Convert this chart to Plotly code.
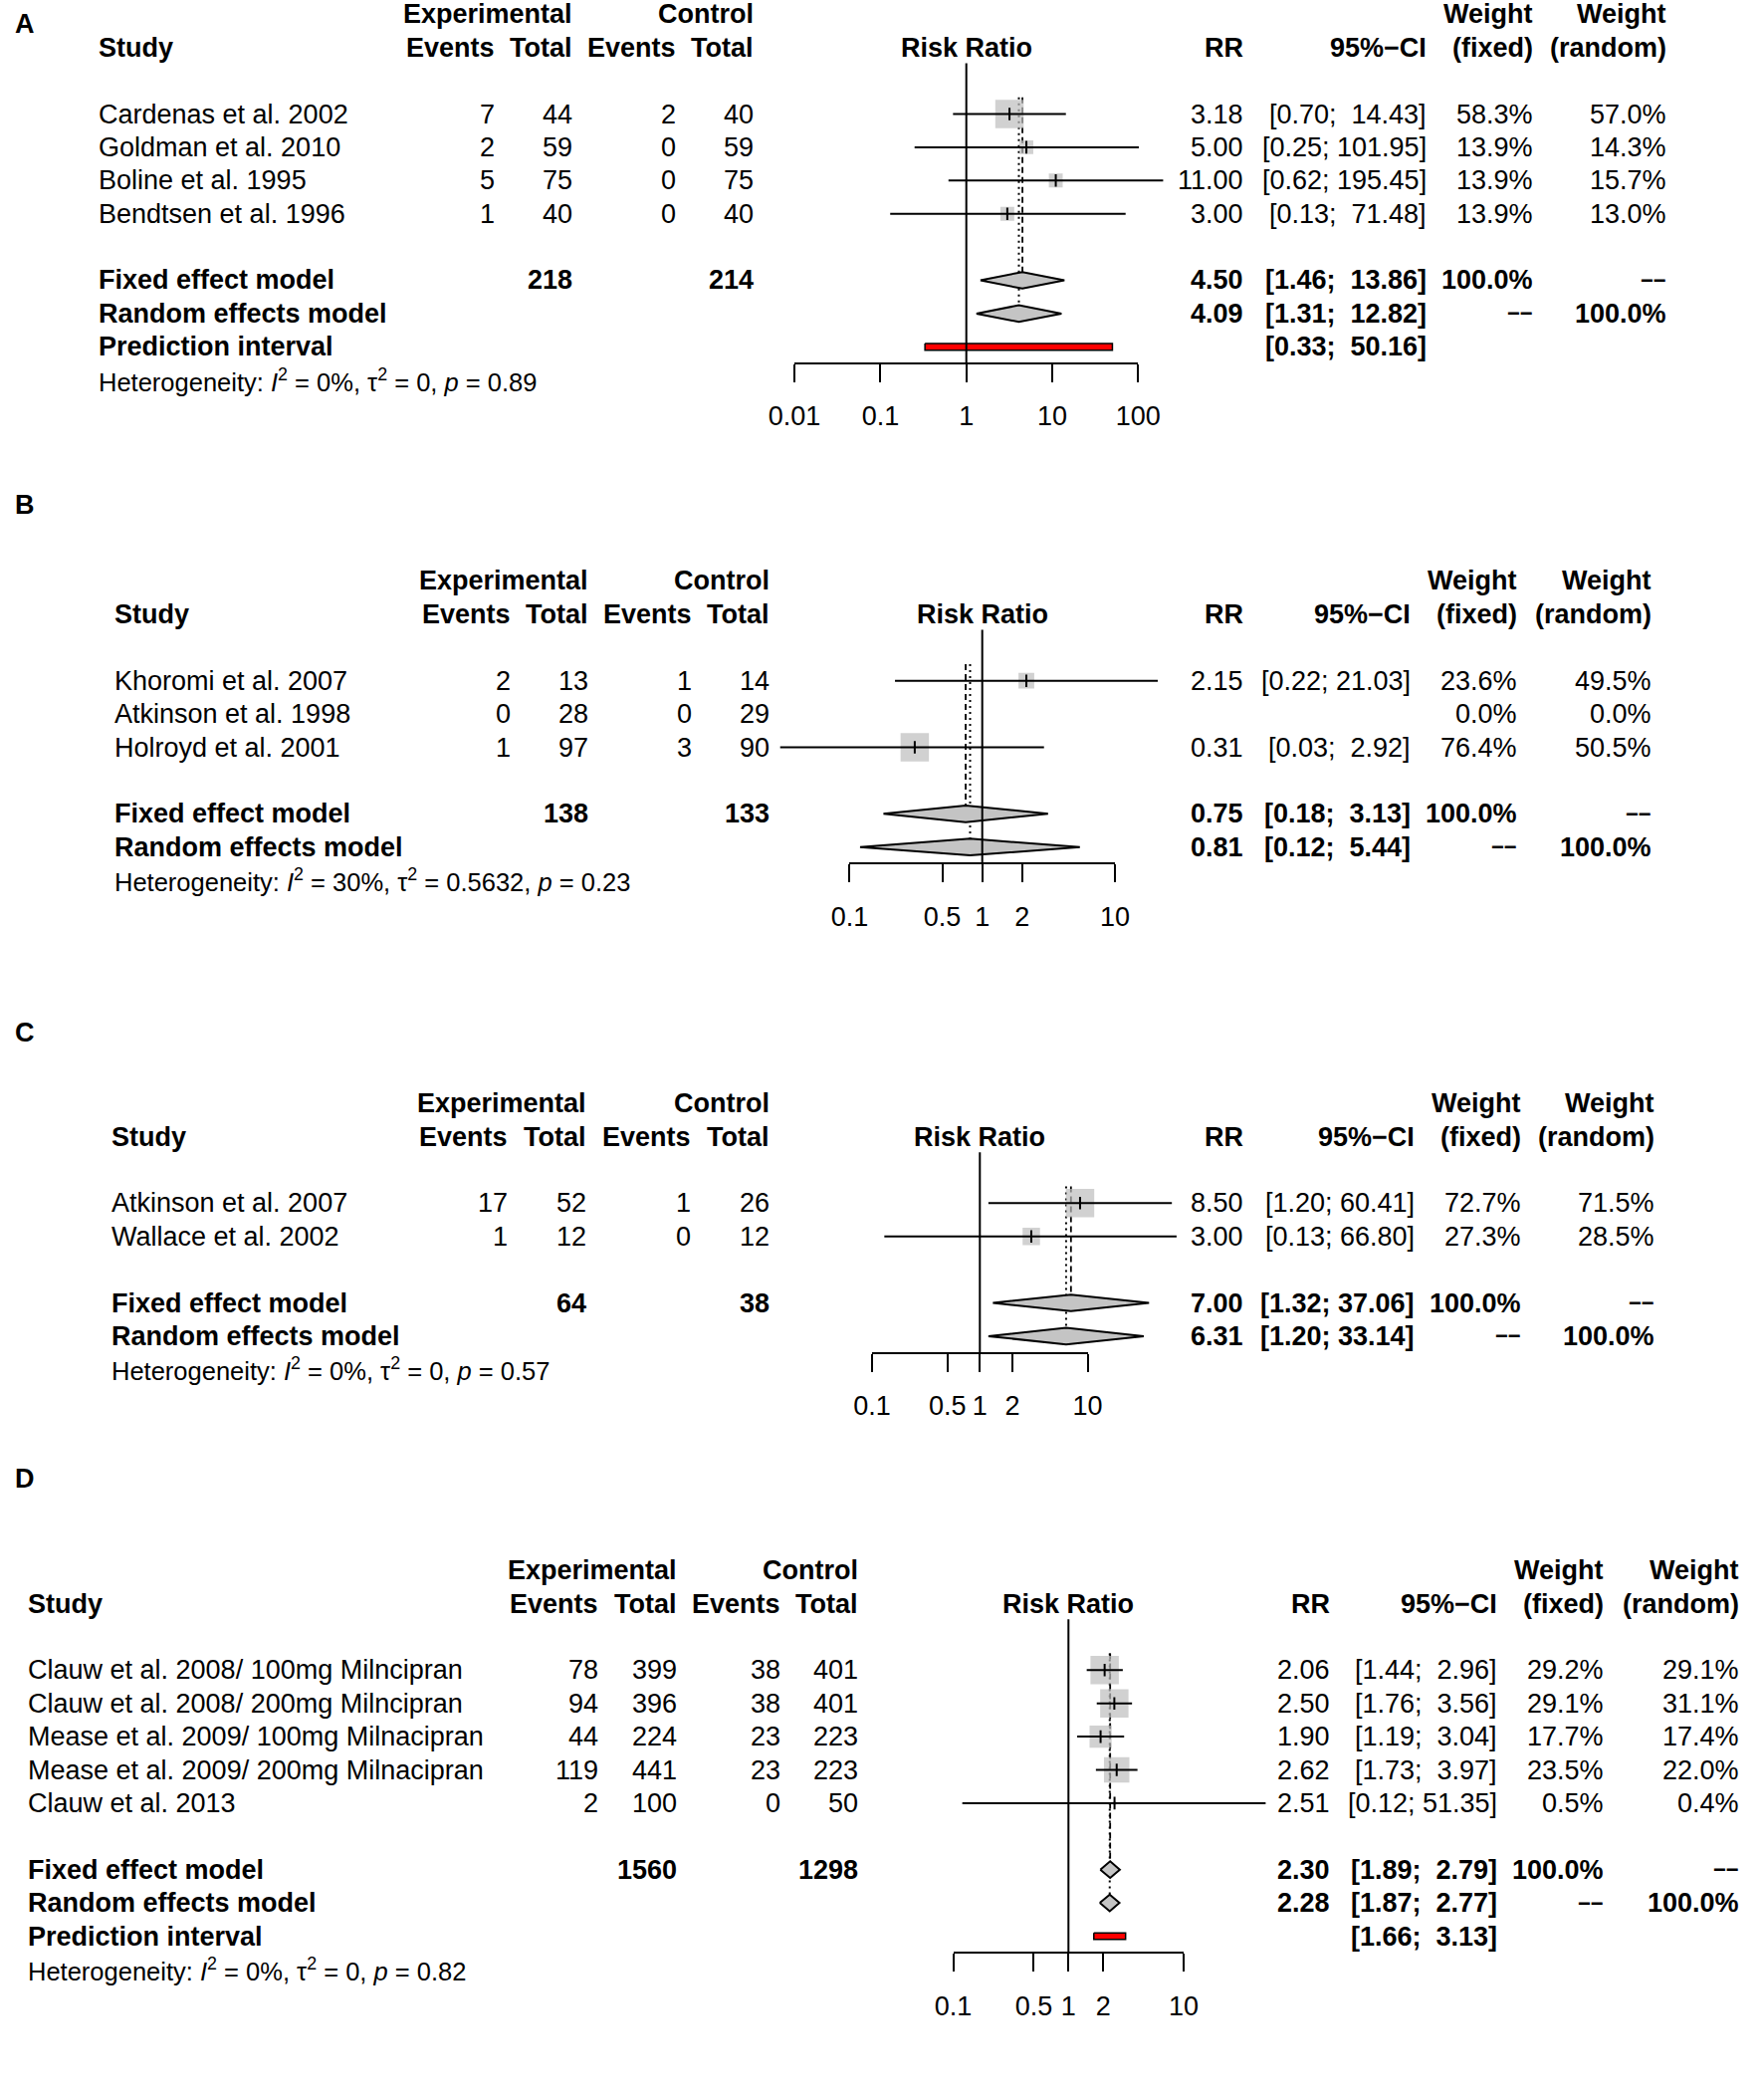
import math
import plotly.graph_objects as go

# ---------------- data ----------------
# Panel A
A_studies = ["Cardenas et al. 2002", "Goldman et al. 2010", "Boline et al. 1995", "Bendtsen et al. 1996"]
A_exp_events = [7, 2, 5, 1]
A_exp_total = [44, 59, 75, 40]
A_ctrl_events = [2, 0, 0, 0]
A_ctrl_total = [40, 59, 75, 40]
A_rr = [3.18, 5.00, 11.00, 3.00]
A_lower = [0.70, 0.25, 0.62, 0.13]
A_upper = [14.43, 101.95, 195.45, 71.48]
A_w_fixed = [58.3, 13.9, 13.9, 13.9]
A_w_random = [57.0, 14.3, 15.7, 13.0]
A_fixed = [4.50, 1.46, 13.86]
A_random = [4.09, 1.31, 12.82]
A_pred = [0.33, 50.16]
A_totals = [218, 214]
A_het = ["0%", "0", "0.89"]
A_ticks = [0.01, 0.1, 1, 10, 100]
A_ticklabels = ["0.01", "0.1", "1", "10", "100"]

# Panel B
B_studies = ["Khoromi et al. 2007", "Atkinson et al. 1998", "Holroyd et al. 2001"]
B_exp_events = [2, 0, 1]
B_exp_total = [13, 28, 97]
B_ctrl_events = [1, 0, 3]
B_ctrl_total = [14, 29, 90]
B_rr = [2.15, None, 0.31]
B_lower = [0.22, None, 0.03]
B_upper = [21.03, None, 2.92]
B_w_fixed = [23.6, 0.0, 76.4]
B_w_random = [49.5, 0.0, 50.5]
B_fixed = [0.75, 0.18, 3.13]
B_random = [0.81, 0.12, 5.44]
B_pred = None
B_totals = [138, 133]
B_het = ["30%", "0.5632", "0.23"]
B_ticks = [0.1, 0.5, 1, 2, 10]
B_ticklabels = ["0.1", "0.5", "1", "2", "10"]

# Panel C
C_studies = ["Atkinson et al. 2007", "Wallace et al. 2002"]
C_exp_events = [17, 1]
C_exp_total = [52, 12]
C_ctrl_events = [1, 0]
C_ctrl_total = [26, 12]
C_rr = [8.50, 3.00]
C_lower = [1.20, 0.13]
C_upper = [60.41, 66.80]
C_w_fixed = [72.7, 27.3]
C_w_random = [71.5, 28.5]
C_fixed = [7.00, 1.32, 37.06]
C_random = [6.31, 1.20, 33.14]
C_pred = None
C_totals = [64, 38]
C_het = ["0%", "0", "0.57"]
C_ticks = [0.1, 0.5, 1, 2, 10]
C_ticklabels = ["0.1", "0.5", "1", "2", "10"]

# Panel D
D_studies = ["Clauw et al. 2008/ 100mg Milncipran", "Clauw et al. 2008/ 200mg Milncipran",
             "Mease et al. 2009/ 100mg Milnacipran", "Mease et al. 2009/ 200mg Milnacipran",
             "Clauw et al. 2013"]
D_exp_events = [78, 94, 44, 119, 2]
D_exp_total = [399, 396, 224, 441, 100]
D_ctrl_events = [38, 38, 23, 23, 0]
D_ctrl_total = [401, 401, 223, 223, 50]
D_rr = [2.06, 2.50, 1.90, 2.62, 2.51]
D_lower = [1.44, 1.76, 1.19, 1.73, 0.12]
D_upper = [2.96, 3.56, 3.04, 3.97, 51.35]
D_w_fixed = [29.2, 29.1, 17.7, 23.5, 0.5]
D_w_random = [29.1, 31.1, 17.4, 22.0, 0.4]
D_fixed = [2.30, 1.89, 2.79]
D_random = [2.28, 1.87, 2.77]
D_pred = [1.66, 3.13]
D_totals = [1560, 1298]
D_het = ["0%", "0", "0.82"]
D_ticks = [0.1, 0.5, 1, 2, 10]
D_ticklabels = ["0.1", "0.5", "1", "2", "10"]

# ---------------- layout / style (pixel positions) ----------------
W, H = 1772, 2101
ROW_H = 33.4
FONT = "Liberation Sans, Arial, Helvetica, sans-serif"
FS = 27
FS_HET = 25.5
FS_DASH = 22
SQ_MAX = 28.5
DIAMOND_HALF = 0.25
PRED_HALF = 0.1
REF_TOP = -1.53
Y_TOP = -1.6
TREND_TOP = -0.5
SQ_COLOR = "#BDBDBD"
DIAMOND_COLOR = "#C4C4C4"
DASHES = "\u2212\u2212"

GEOM = {
    "A": dict(label_y=24, row0=114.5, x_one=970.7, decade=86.3, xr=(-2.1, 2.4), study_x=96.5,
              cols=(499, 577, 681, 759), rr_x=1251, ci_x=1435, wf_x=1542, wr_x=1676),
    "B": dict(label_y=507, row0=683.7, x_one=986.7, decade=133.3, xr=(-1.6, 1.4), study_x=112.6,
              cols=(515, 593, 697, 775), rr_x=1251, ci_x=1419, wf_x=1526, wr_x=1661),
    "C": dict(label_y=1037, row0=1208.3, x_one=984.3, decade=108.3, xr=(-1.1, 1.9), study_x=110,
              cols=(512, 591, 696, 774.5), rr_x=1251, ci_x=1423, wf_x=1530, wr_x=1664),
    "D": dict(label_y=1485, row0=1677.3, x_one=1073.3, decade=115.8, xr=(-1.1, 1.8), study_x=25.5,
              cols=(603, 682, 786, 864), rr_x=1338, ci_x=1506, wf_x=1613, wr_x=1749),
}

PANELS = [
    dict(label="A", studies=A_studies, ee=A_exp_events, et=A_exp_total, ce=A_ctrl_events, ct=A_ctrl_total,
         rr=A_rr, lo=A_lower, hi=A_upper, wf=A_w_fixed, wr=A_w_random, fixed=A_fixed, random=A_random,
         pred=A_pred, totals=A_totals, het=A_het, ticks=A_ticks, ticklabels=A_ticklabels),
    dict(label="B", studies=B_studies, ee=B_exp_events, et=B_exp_total, ce=B_ctrl_events, ct=B_ctrl_total,
         rr=B_rr, lo=B_lower, hi=B_upper, wf=B_w_fixed, wr=B_w_random, fixed=B_fixed, random=B_random,
         pred=B_pred, totals=B_totals, het=B_het, ticks=B_ticks, ticklabels=B_ticklabels),
    dict(label="C", studies=C_studies, ee=C_exp_events, et=C_exp_total, ce=C_ctrl_events, ct=C_ctrl_total,
         rr=C_rr, lo=C_lower, hi=C_upper, wf=C_w_fixed, wr=C_w_random, fixed=C_fixed, random=C_random,
         pred=C_pred, totals=C_totals, het=C_het, ticks=C_ticks, ticklabels=C_ticklabels),
    dict(label="D", studies=D_studies, ee=D_exp_events, et=D_exp_total, ce=D_ctrl_events, ct=D_ctrl_total,
         rr=D_rr, lo=D_lower, hi=D_upper, wf=D_w_fixed, wr=D_w_random, fixed=D_fixed, random=D_random,
         pred=D_pred, totals=D_totals, het=D_het, ticks=D_ticks, ticklabels=D_ticklabels),
]

fig = go.Figure()


def px_x(x):
    return x / W


def px_y(y):
    return 1 - y / H


def ann(text, xpx, ypx, anchor, bold=False, size=FS):
    if bold:
        text = "<b>" + text + "</b>"
    fig.add_annotation(x=px_x(xpx), y=px_y(ypx), xref="paper", yref="paper", text=text,
                       xanchor=anchor, yanchor="middle", showarrow=False,
                       font=dict(family=FONT, size=size, color="black"))


def ci_text(lo, hi, width):
    s_hi = f"{hi:.2f}"
    pad = "\u00a0" * (width - len(s_hi))
    return f"[{lo:.2f}; {pad}{s_hi}]"


NOHOVER = dict(showlegend=False, hoverinfo="skip")
layout_axes = {}
for k, p in enumerate(PANELS):
    g = GEOM[p["label"]]
    sfx = "" if k == 0 else str(k + 1)
    tsfx = str(k + 5)
    xa, ya, xt = "x" + sfx, "y" + sfx, "x" + tsfx
    n = len(p["studies"])
    r_fixed, r_random = n + 1, n + 2
    r_pred = n + 3 if p["pred"] else None
    r_last = r_pred if r_pred else r_random
    r_het = r_last + 1
    axis_row = r_last + 0.5

    def rowpx(r, g=g):
        return g["row0"] + r * ROW_H

    # data axes (invisible)
    x_dom = [px_x(g["x_one"] + g["xr"][0] * g["decade"]), px_x(g["x_one"] + g["xr"][1] * g["decade"])]
    y_dom = [px_y(rowpx(axis_row)), px_y(rowpx(Y_TOP))]
    layout_axes["xaxis" + sfx] = dict(type="log", domain=x_dom, range=list(g["xr"]), anchor=ya,
                                      visible=False, fixedrange=True, automargin=False)
    layout_axes["yaxis" + sfx] = dict(domain=y_dom, range=[axis_row, Y_TOP], anchor=xa,
                                      visible=False, fixedrange=True, automargin=False)
    # tick axis spanning exactly the outer ticks, same scale as the data axis
    lt0, lt1 = math.log10(p["ticks"][0]), math.log10(p["ticks"][-1])
    layout_axes["xaxis" + tsfx] = dict(
        type="log", domain=[px_x(g["x_one"] + lt0 * g["decade"]), px_x(g["x_one"] + lt1 * g["decade"])],
        range=[lt0, lt1], anchor="free", position=px_y(rowpx(axis_row)),
        tickvals=p["ticks"], ticktext=p["ticklabels"], tickangle=0,
        showline=True, linecolor="black", linewidth=2,
        ticks="outside", ticklen=18, tickwidth=2, tickcolor="black",
        ticklabelstandoff=11, showgrid=False, zeroline=False, fixedrange=True, automargin=False,
        tickfont=dict(family=FONT, size=FS, color="black"))
    fig.add_trace(go.Scatter(x=[p["ticks"][2]], y=[axis_row], mode="markers",
                             marker=dict(size=1, opacity=0), xaxis=xt, yaxis=ya, **NOHOVER))

    f_rr, f_lo, f_hi = p["fixed"]
    r_rr, r_lo, r_hi = p["random"]

    # fixed (dashed) and random (dotted) lines
    fig.add_trace(go.Scatter(x=[f_rr, f_rr], y=[TREND_TOP, r_fixed - DIAMOND_HALF], mode="lines",
                             line=dict(color="black", width=1.8, dash="6px,4px"),
                             xaxis=xa, yaxis=ya, **NOHOVER))
    fig.add_trace(go.Scatter(x=[r_rr, r_rr], y=[TREND_TOP, r_random - DIAMOND_HALF], mode="lines",
                             line=dict(color="black", width=2, dash="2px,4px"),
                             xaxis=xa, yaxis=ya, **NOHOVER))

    idx = [i for i in range(n) if p["rr"][i] is not None]
    wmax = max(p["wf"])
    # squares (size by fixed-effect weight)
    fig.add_trace(go.Scatter(
        x=[p["rr"][i] for i in idx], y=idx, mode="markers",
        marker=dict(symbol="square", color=SQ_COLOR,
                    size=[SQ_MAX * math.sqrt(p["wf"][i] / wmax) for i in idx],
                    line=dict(width=0)),
        xaxis=xa, yaxis=ya, **NOHOVER))
    # CI lines
    cx, cy = [], []
    for i in idx:
        cx += [p["lo"][i], p["hi"][i], None]
        cy += [i, i, None]
    fig.add_trace(go.Scatter(x=cx, y=cy, mode="lines", line=dict(color="black", width=2),
                             xaxis=xa, yaxis=ya, **NOHOVER))
    # point estimate ticks
    fig.add_trace(go.Scatter(
        x=[p["rr"][i] for i in idx], y=idx, mode="markers",
        marker=dict(symbol="line-ns", size=9, line=dict(color="black", width=2)),
        xaxis=xa, yaxis=ya, **NOHOVER))
    # diamonds
    for (est, lo, hi, r) in [(f_rr, f_lo, f_hi, r_fixed), (r_rr, r_lo, r_hi, r_random)]:
        fig.add_trace(go.Scatter(
            x=[lo, est, hi, est, lo], y=[r, r - DIAMOND_HALF, r, r + DIAMOND_HALF, r],
            mode="lines", fill="toself", fillcolor=DIAMOND_COLOR,
            line=dict(color="black", width=2),
            xaxis=xa, yaxis=ya, **NOHOVER))
    # prediction interval
    if p["pred"]:
        plo, phi = p["pred"]
        fig.add_trace(go.Scatter(
            x=[plo, phi, phi, plo, plo],
            y=[r_pred - PRED_HALF, r_pred - PRED_HALF, r_pred + PRED_HALF, r_pred + PRED_HALF, r_pred - PRED_HALF],
            mode="lines", fill="toself", fillcolor="#FF0000",
            line=dict(color="black", width=1.5),
            xaxis=xa, yaxis=ya, **NOHOVER))
    # reference line at 1
    fig.add_trace(go.Scatter(x=[1, 1], y=[REF_TOP, axis_row], mode="lines",
                             line=dict(color="black", width=2),
                             xaxis=xa, yaxis=ya, **NOHOVER))

    # ---------- text ----------
    ann(p["label"], 12.5, g["label_y"], "left", bold=True)
    c = g["cols"]
    y1, y2 = rowpx(-3), rowpx(-2)
    ann("Experimental", c[1], y1, "right", True)
    ann("Control", c[3], y1, "right", True)
    ann("Weight", g["wf_x"], y1, "right", True)
    ann("Weight", g["wr_x"], y1, "right", True)
    ann("Study", g["study_x"], y2, "left", True)
    ann("Events", c[0], y2, "right", True)
    ann("Total", c[1], y2, "right", True)
    ann("Events", c[2], y2, "right", True)
    ann("Total", c[3], y2, "right", True)
    ann("Risk Ratio", g["x_one"], y2, "center", True)
    ann("RR", g["rr_x"], y2, "right", True)
    ann("95%\u2212CI", g["ci_x"], y2, "right", True)
    ann("(fixed)", g["wf_x"], y2, "right", True)
    ann("(random)", g["wr_x"], y2, "right", True)

    his = [h for h in p["hi"] if h is not None] + [f_hi, r_hi] + ([p["pred"][1]] if p["pred"] else [])
    wid = max(len(f"{h:.2f}") for h in his)

    for i in range(n):
        y = rowpx(i)
        ann(p["studies"][i], g["study_x"], y, "left")
        ann(str(p["ee"][i]), c[0], y, "right")
        ann(str(p["et"][i]), c[1], y, "right")
        ann(str(p["ce"][i]), c[2], y, "right")
        ann(str(p["ct"][i]), c[3], y, "right")
        if p["rr"][i] is not None:
            ann(f"{p['rr'][i]:.2f}", g["rr_x"], y, "right")
            ann(ci_text(p["lo"][i], p["hi"][i], wid), g["ci_x"], y, "right")
        ann(f"{p['wf'][i]:.1f}%", g["wf_x"], y, "right")
        ann(f"{p['wr'][i]:.1f}%", g["wr_x"], y, "right")

    y = rowpx(r_fixed)
    ann("Fixed effect model", g["study_x"], y, "left", True)
    ann(str(p["totals"][0]), c[1], y, "right", True)
    ann(str(p["totals"][1]), c[3], y, "right", True)
    ann(f"{f_rr:.2f}", g["rr_x"], y, "right", True)
    ann(ci_text(f_lo, f_hi, wid), g["ci_x"], y, "right", True)
    ann("100.0%", g["wf_x"], y, "right", True)
    ann(DASHES, g["wr_x"], y, "right", True, size=FS_DASH)

    y = rowpx(r_random)
    ann("Random effects model", g["study_x"], y, "left", True)
    ann(f"{r_rr:.2f}", g["rr_x"], y, "right", True)
    ann(ci_text(r_lo, r_hi, wid), g["ci_x"], y, "right", True)
    ann(DASHES, g["wf_x"], y, "right", True, size=FS_DASH)
    ann("100.0%", g["wr_x"], y, "right", True)

    if p["pred"]:
        y = rowpx(r_pred)
        ann("Prediction interval", g["study_x"], y, "left", True)
        ann(ci_text(p["pred"][0], p["pred"][1], wid), g["ci_x"], y, "right", True)

    i2, t2, pv = p["het"]
    ann(f"Heterogeneity: <i>I</i><sup>2</sup> = {i2}, \u03c4<sup>2</sup> = {t2}, <i>p</i> = {pv}",
        g["study_x"], rowpx(r_het), "left", size=FS_HET)

fig.update_layout(
    template="none",
    width=W, height=H, autosize=False,
    margin=dict(l=0, r=0, t=0, b=0, pad=0),
    paper_bgcolor="white", plot_bgcolor="rgba(0,0,0,0)",
    showlegend=False,
    font=dict(family=FONT, size=FS, color="black"),
    **layout_axes,
)

# remove the default page margin so the figure starts at the window's top-left corner
fig.write_html("out.html", config={"displayModeBar": False},
               post_script="document.body.style.margin='0px';")
